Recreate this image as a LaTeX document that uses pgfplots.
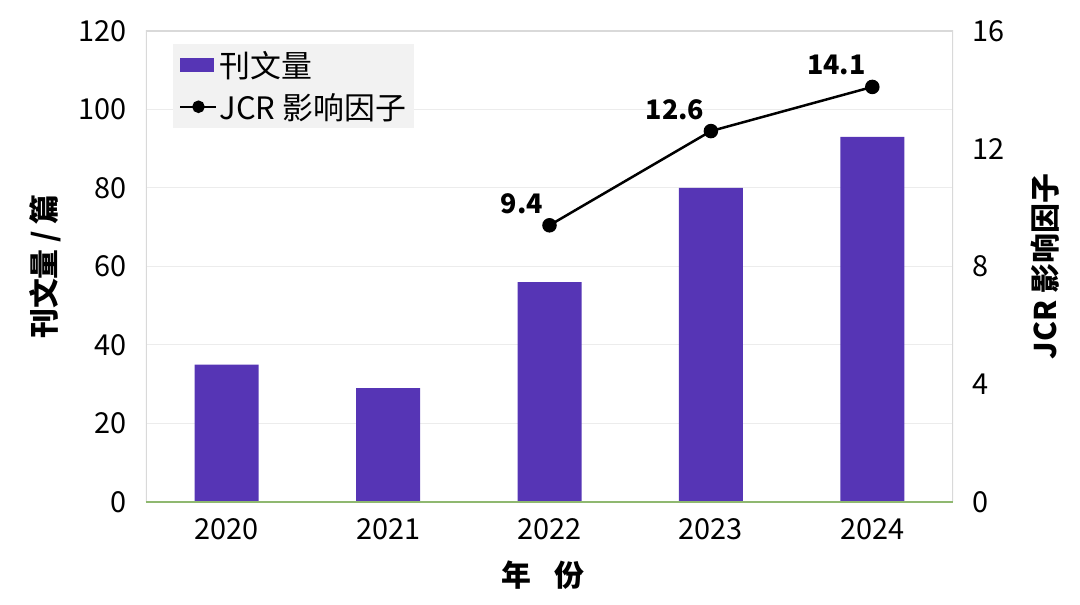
\documentclass[border=0pt]{standalone}
\usepackage{fontspec}
\setmainfont{Noto Sans CJK SC}
\usepackage{pgfplots}
\pgfplotsset{compat=1.18}

\definecolor{barc}{RGB}{86,53,181}
\definecolor{gridc}{RGB}{236,236,236}
\definecolor{framec}{RGB}{217,217,217}
\definecolor{basec}{RGB}{143,184,112}
\definecolor{legc}{RGB}{242,242,242}

\newcommand{\tickfont}{\fontsize{29}{32}\selectfont}
\newcommand{\labfont}{\fontsize{30}{32}\selectfont\bfseries}

\pgfplotsset{
  linelegend/.style={legend image code/.code={%
    \draw[mark repeat=2, mark phase=2, ##1] plot coordinates {(0bp,0bp) (18bp,0bp) (36bp,0bp)};}},
  barlegend/.style={legend image code/.code={%
    \fill[barc] (0bp,-7bp) rectangle (34bp,7bp);}},
}

\begin{document}
\begin{tikzpicture}
\path[use as bounding box] (-146bp,-103bp) rectangle (934bp,502bp);

% left axis: articles per year
\begin{axis}[
  at={(0,0)}, anchor=south west,
  scale only axis, width=807bp, height=471bp,
  xmin=-0.5, xmax=4.5, ymin=0, ymax=120,
  xtick={0,1,2,3,4}, xticklabels={2020,2021,2022,2023,2024},
  ytick={0,20,...,120},
  axis line style={draw=none},
  major tick length=0,
  ymajorgrids, grid style={gridc, line width=1bp},
  tick label style={font=\tickfont},
  /pgf/number format/assume math mode=true,
  yticklabel style={xshift=-16bp},
  xticklabel style={yshift=-13bp},
  xlabel={年\hspace{0.75em}份},
  xlabel style={font=\labfont, at={(axis description cs:0.492,-0.155)}, anchor=center},
  ylabel={刊文量 / 篇},
  ylabel style={font=\labfont, at={(axis description cs:-0.125,0.5)}, anchor=center},
  legend style={at={(axis description cs:0.0335,0.972)}, anchor=north west,
    fill=legc, draw=none, font=\fontsize{31}{33}\selectfont,
    inner xsep=6bp, inner ysep=5bp, row sep=10bp},
  legend cell align=left,
]
\addplot[ybar, bar width=64bp, fill=barc, draw=none, barlegend]
  coordinates {(0,35) (1,29) (2,56) (3,80) (4,93)};
\addlegendentry{刊文量}
\addlegendimage{black, line width=2.5bp, mark=*, mark size=5bp, linelegend}
\addlegendentry{JCR 影响因子}
\draw[framec, line width=1.5bp] (rel axis cs:0,0) -- (rel axis cs:0,1) -- (rel axis cs:1,1) -- (rel axis cs:1,0);
\draw[basec, line width=1.5bp] (rel axis cs:0,0) -- (rel axis cs:1,0);
\end{axis}

% right axis: JCR impact factor
\begin{axis}[
  at={(0,0)}, anchor=south west,
  scale only axis, width=807bp, height=471bp,
  xmin=-0.5, xmax=4.5, ymin=0, ymax=16,
  axis x line=none, axis y line*=right,
  axis line style={draw=none},
  ytick={0,4,...,16},
  major tick length=0,
  tick label style={font=\tickfont},
  /pgf/number format/assume math mode=true,
  yticklabel style={xshift=16bp},
  ylabel={JCR 影响因子},
  ylabel style={font=\labfont, at={(axis description cs:1.114,0.5)}, anchor=center},
  nodes near coords={\pgfmathprintnumber[fixed, fixed zerofill, precision=1]{\pgfplotspointmeta}},
  nodes near coords style={font=\fontsize{27}{29}\selectfont\bfseries, text=black,
    anchor=south east, xshift=-2bp, yshift=7bp},
]
\addplot[black, line width=2.5bp, mark=*, mark size=6bp]
  coordinates {(2,9.4) (3,12.6) (4,14.1)};
\end{axis}
\end{tikzpicture}
\end{document}
